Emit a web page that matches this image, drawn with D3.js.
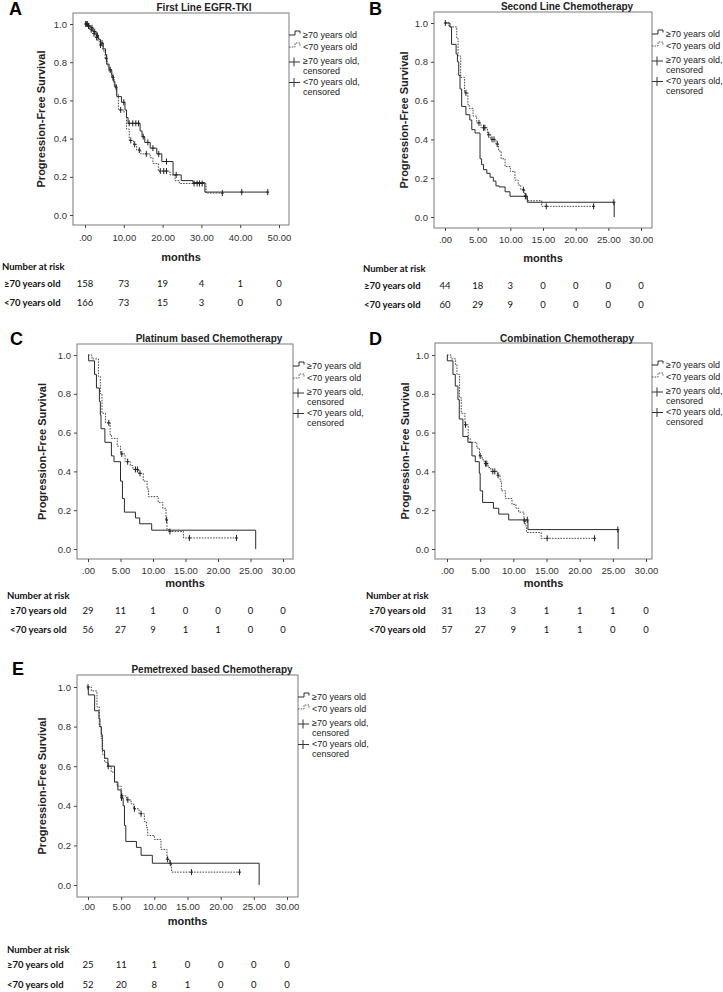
<!DOCTYPE html>
<html><head><meta charset="utf-8">
<script src="https://cdn.jsdelivr.net/npm/d3@7"></script>
<style>body{margin:0;background:#fff}</style>
</head><body><svg id="c" width="723" height="992"></svg>
<script>
// ---------- DATA ----------
const panelLetters = ["A", "B", "C", "D", "E"];
const panelTitles = ["First Line EGFR-TKI", "Second Line Chemotherapy", "Platinum based Chemotherapy", "Combination Chemotherapy", "Pemetrexed based Chemotherapy"];
const groupLabels = ["≥70 years old", "<70 years old"];
const legendLabels = [["≥70 years old"], ["<70 years old"], ["≥70 years old,", "censored"], ["<70 years old,", "censored"]];
const yTicks = [0, 0.2, 0.4, 0.6, 0.8, 1.0];
const xTicksEGFR = [0, 10, 20, 30, 40, 50];
const xTicksChemo = [0, 5, 10, 15, 20, 25, 30];
const yAxisTitle = "Progression-Free Survival";
const xAxisTitle = "months";
const riskHeader = "Number at risk";

// Number at risk
const riskAOld = [158, 73, 19, 4, 1, 0];
const riskAYoung = [166, 73, 15, 3, 0, 0];
const riskBOld = [44, 18, 3, 0, 0, 0, 0];
const riskBYoung = [60, 29, 9, 0, 0, 0, 0];
const riskCOld = [29, 11, 1, 0, 0, 0, 0];
const riskCYoung = [56, 27, 9, 1, 1, 0, 0];
const riskDOld = [31, 13, 3, 1, 1, 1, 0];
const riskDYoung = [57, 27, 9, 1, 1, 0, 0];
const riskEOld = [25, 11, 1, 0, 0, 0, 0];
const riskEYoung = [52, 20, 8, 1, 0, 0, 0];

// Kaplan-Meier steps: times (months) and survival from that time on; censored times
const aOldT = [0, 0.7, 1.5, 2.1, 2.9, 3.5, 4.0, 4.7, 5.3, 5.6, 6.2, 6.9, 7.3, 7.7, 8.2, 9.4, 10.3, 10.7, 11.1, 14.2, 14.7, 15.4, 16.8, 18.5, 19.8, 22.7, 24.8, 27.8, 30.9, 47.2];
const aOldS = [1.0, 0.99, 0.98, 0.96, 0.94, 0.92, 0.90, 0.87, 0.84, 0.79, 0.76, 0.73, 0.70, 0.67, 0.62, 0.59, 0.55, 0.51, 0.48, 0.44, 0.41, 0.38, 0.35, 0.32, 0.28, 0.21, 0.18, 0.17, 0.12, 0.12];
const aOldC = [0.3, 0.6, 1.0, 1.8, 2.5, 3.2, 4.4, 6.5, 8.0, 10.0, 11.4, 12.3, 13.1, 13.8, 15.0, 16.2, 17.5, 19.0, 21.0, 23.5, 40.4, 47.1];
const aYoungT = [0, 0.5, 1.2, 2.0, 2.6, 3.3, 3.9, 4.6, 5.2, 5.7, 6.2, 6.9, 7.5, 8.1, 8.6, 9.9, 10.7, 11.4, 12.5, 13.3, 14.4, 16.8, 17.5, 18.9, 21.9, 23.2, 24.3, 31.2, 35.5];
const aYoungS = [1.0, 0.99, 0.97, 0.95, 0.93, 0.91, 0.89, 0.86, 0.82, 0.78, 0.75, 0.72, 0.68, 0.63, 0.55, 0.54, 0.45, 0.39, 0.37, 0.34, 0.32, 0.30, 0.27, 0.23, 0.21, 0.18, 0.165, 0.115, 0.115];
const aYoungC = [0.2, 0.9, 1.6, 2.3, 3.0, 4.0, 5.5, 7.2, 9.2, 11.8, 12.8, 14.0, 15.8, 19.4, 20.3, 21.0, 28.1, 28.9, 29.5, 30.2, 35.4];

const bOldT = [0, 0.75, 1.0, 1.7, 1.9, 2.1, 2.3, 2.55, 3.2, 3.8, 4.1, 4.6, 5.36, 5.6, 5.9, 6.4, 6.9, 7.4, 7.8, 8.3, 9.2, 9.95, 12.6, 25.9];
const bOldS = [1.0, 0.98, 0.89, 0.84, 0.80, 0.73, 0.66, 0.57, 0.527, 0.50, 0.45, 0.433, 0.30, 0.27, 0.244, 0.225, 0.205, 0.185, 0.16, 0.155, 0.13, 0.107, 0.076, 0];
const bOldC = [12.3, 25.85];
const bYoungT = [0, 0.6, 1.8, 2.0, 2.4, 3.0, 3.5, 3.7, 4.3, 4.85, 5.5, 6.5, 7.0, 7.8, 8.2, 8.6, 9.2, 10.0, 10.7, 11.2, 11.6, 12.2, 12.6, 14.8, 22.8];
const bYoungS = [1.0, 0.98, 0.92, 0.83, 0.72, 0.64, 0.58, 0.56, 0.52, 0.485, 0.46, 0.424, 0.40, 0.376, 0.34, 0.30, 0.26, 0.235, 0.19, 0.165, 0.14, 0.107, 0.084, 0.055, 0.055];
const bYoungC = [0.05, 3.2, 5.2, 5.9, 6.1, 6.7, 7.2, 7.5, 8.0, 12.0, 12.4, 15.5, 22.75];

const cOldT = [0, 0.1, 1.0, 1.3, 1.75, 1.9, 2.0, 2.6, 3.6, 4.0, 5.0, 5.3, 5.6, 7.3, 7.95, 9.8, 25.8];
const cOldS = [1.0, 0.97, 0.90, 0.83, 0.76, 0.69, 0.62, 0.55, 0.48, 0.45, 0.35, 0.26, 0.19, 0.16, 0.13, 0.097, 0];
const cOldC = [];
const cYoungT = [0, 0.6, 1.6, 1.9, 2.15, 2.7, 3.4, 3.6, 4.5, 5.0, 5.7, 6.5, 6.9, 7.8, 8.5, 9.1, 9.3, 10.8, 11.5, 12.0, 12.15, 12.5, 14.7, 22.9];
const cYoungS = [1.0, 0.98, 0.89, 0.80, 0.70, 0.65, 0.59, 0.57, 0.53, 0.49, 0.45, 0.43, 0.41, 0.39, 0.35, 0.31, 0.27, 0.24, 0.21, 0.15, 0.10, 0.09, 0.057, 0.057];
const cYoungC = [3.2, 5.2, 6.1, 7.3, 7.6, 8.0, 12.1, 12.6, 15.6, 22.85];

const dOldT = [0, 0.05, 0.9, 1.25, 1.65, 1.85, 2.4, 3.15, 3.76, 4.26, 4.87, 5.0, 5.37, 7.0, 7.8, 9.3, 12.2, 25.8];
const dOldS = [1.0, 0.97, 0.90, 0.84, 0.77, 0.67, 0.58, 0.55, 0.48, 0.45, 0.39, 0.30, 0.24, 0.21, 0.18, 0.15, 0.10, 0];
const dOldC = [12.1, 25.75];
const dYoungT = [0, 0.6, 1.3, 1.5, 1.9, 2.15, 2.7, 3.2, 3.5, 4.5, 4.9, 5.3, 5.6, 6.2, 6.6, 7.6, 8.0, 8.2, 8.8, 9.8, 10.4, 10.8, 11.6, 11.8, 12.0, 14.2, 22.3];
const dYoungS = [1.0, 0.98, 0.95, 0.90, 0.78, 0.70, 0.64, 0.57, 0.55, 0.52, 0.48, 0.46, 0.44, 0.42, 0.40, 0.38, 0.35, 0.30, 0.26, 0.23, 0.21, 0.19, 0.145, 0.12, 0.085, 0.055, 0.055];
const dYoungC = [2.8, 5.0, 5.8, 6.0, 6.9, 7.2, 7.7, 11.65, 15.1, 22.25];

const eOldT = [0, 0.05, 1.0, 1.65, 1.8, 2.0, 2.15, 2.5, 3.0, 4.0, 4.5, 5.0, 5.3, 5.5, 5.7, 7.3, 8.0, 9.7, 25.8];
const eOldS = [1.0, 0.96, 0.88, 0.84, 0.80, 0.76, 0.68, 0.64, 0.60, 0.52, 0.48, 0.44, 0.40, 0.30, 0.22, 0.19, 0.15, 0.11, 0];
const eOldC = [0, 5.05];
const eYoungT = [0, 0.5, 1.35, 1.7, 2.0, 2.2, 2.5, 3.0, 3.5, 4.0, 4.4, 5.0, 5.8, 6.5, 6.9, 7.7, 8.5, 8.8, 9.0, 10.0, 11.0, 11.9, 12.3, 12.6, 22.9];
const eYoungS = [1.0, 0.98, 0.90, 0.80, 0.74, 0.66, 0.62, 0.60, 0.57, 0.52, 0.50, 0.45, 0.43, 0.41, 0.385, 0.36, 0.32, 0.29, 0.25, 0.23, 0.18, 0.13, 0.11, 0.065, 0.065];
const eYoungC = [3.05, 5.1, 6.0, 7.0, 8.0, 12.0, 12.4, 15.6, 22.85];

// ---------- LAYOUT ----------
const layouts = [
  {fx0:73, fx1:289, fy0:13, fy1:225, px0:85, px1:279, py1:24, py0:215, lx:9, ly:15, tx:204, ty:10.5, tickY:241, monthsY:261, rhx:2, rhy:270, rrx:4, rry:[287,306], ylx:41},
  {fx0:434, fx1:652, fy0:12, fy1:228, px0:445, px1:641, py1:23, py0:217, lx:369, ly:15, tx:567, ty:10, tickY:243, monthsY:261.5, rhx:363, rhy:272, rrx:364, rry:[289,308], ylx:404},
  {fx0:77, fx1:293, fy0:344, fy1:559, px0:88, px1:283, py1:355, py0:549, lx:10, ly:345, tx:209, ty:342, tickY:574, monthsY:587, rhx:7, rhy:599, rrx:10, rry:[614,633], ylx:42},
  {fx0:435, fx1:652, fy0:343, fy1:559, px0:447, px1:646, py1:355, py0:549, lx:369, ly:345, tx:567, ty:342, tickY:574, monthsY:587, rhx:366, rhy:599, rrx:369, rry:[614,633], ylx:405},
  {fx0:77, fx1:298, fy0:675, fy1:897, px0:88, px1:287, py1:687, py0:885, lx:12, ly:675, tx:212, ty:673, tickY:910, monthsY:925, rhx:7, rhy:953, rrx:7, rry:[968,988], ylx:42}
];

const panels = [
  {xTicks: xTicksEGFR, risk:[riskAOld, riskAYoung], old:[aOldT, aOldS, aOldC], young:[aYoungT, aYoungS, aYoungC]},
  {xTicks: xTicksChemo, risk:[riskBOld, riskBYoung], old:[bOldT, bOldS, bOldC], young:[bYoungT, bYoungS, bYoungC]},
  {xTicks: xTicksChemo, risk:[riskCOld, riskCYoung], old:[cOldT, cOldS, cOldC], young:[cYoungT, cYoungS, cYoungC]},
  {xTicks: xTicksChemo, risk:[riskDOld, riskDYoung], old:[dOldT, dOldS, dOldC], young:[dYoungT, dYoungS, dYoungC]},
  {xTicks: xTicksChemo, risk:[riskEOld, riskEYoung], old:[eOldT, eOldS, eOldC], young:[eYoungT, eYoungS, eYoungC]}
];

// ---------- DRAW ----------
const svg = d3.select("#c");
svg.append("rect").attr("width", 723).attr("height", 992).attr("fill", "#fff");
const SANS = "'Liberation Sans', Arial, sans-serif";
const TABLE = "Lato, 'Open Sans', sans-serif";
const INK = "#222";
const fmtX = d => d === 0 ? ".00" : d.toFixed(2);

panels.forEach((p, i) => {
  const L = layouts[i];
  const g = svg.append("g");
  const xMax = p.xTicks[p.xTicks.length - 1];
  const x = d3.scaleLinear().domain([0, xMax]).range([L.px0, L.px1]);
  const y = d3.scaleLinear().domain([0, 1]).range([L.py0, L.py1]);

  // frame
  g.append("rect").attr("x", L.fx0).attr("y", L.fy0).attr("width", L.fx1 - L.fx0).attr("height", L.fy1 - L.fy0)
    .attr("fill", "none").attr("stroke", "#7a7a7a").attr("stroke-width", 1);

  // y axis
  const ya = g.append("g").attr("transform", `translate(${L.fx0},0)`)
    .call(d3.axisLeft(y).tickValues(yTicks).tickFormat(d3.format(".1f")).tickSize(3).tickPadding(3));
  ya.select(".domain").remove();
  ya.selectAll(".tick line").attr("stroke", "#444");
  ya.selectAll(".tick text").attr("font-family", SANS).attr("font-size", 9.5).attr("fill", "#333");

  // x axis
  const xa = g.append("g").attr("transform", `translate(0,${L.fy1})`)
    .call(d3.axisBottom(x).tickValues(p.xTicks).tickFormat(fmtX).tickSize(3));
  xa.select(".domain").remove();
  xa.selectAll(".tick line").attr("stroke", "#444");
  xa.selectAll(".tick text").attr("font-family", SANS).attr("font-size", 9.5).attr("fill", "#333")
    .attr("dy", 0).attr("y", L.tickY - L.fy1);

  // labels
  g.append("text").attr("x", L.lx).attr("y", L.ly).text(panelLetters[i])
    .attr("font-family", SANS).attr("font-weight", "bold").attr("font-size", 18).attr("fill", "#000");
  g.append("text").attr("x", L.tx).attr("y", L.ty).attr("text-anchor", "middle").text(panelTitles[i])
    .attr("font-family", SANS).attr("font-weight", "bold").attr("font-size", 10).attr("fill", INK);
  g.append("text").attr("transform", `translate(${L.ylx + 4},${(L.fy0 + L.fy1) / 2}) rotate(-90)`)
    .attr("text-anchor", "middle").text(yAxisTitle)
    .attr("font-family", SANS).attr("font-weight", "bold").attr("font-size", 11).attr("fill", INK);
  g.append("text").attr("x", (L.fx0 + L.fx1) / 2).attr("y", L.monthsY).attr("text-anchor", "middle").text(xAxisTitle)
    .attr("font-family", SANS).attr("font-weight", "bold").attr("font-size", 11).attr("fill", INK);

  // curves
  const line = d3.line().x(d => x(d[0])).y(d => y(d[1])).curve(d3.curveStepAfter);
  const styles = {old: {stroke: "#2a2a2a", dash: null}, young: {stroke: "#4a4a4a", dash: "1.6,1.2"}};
  ["young", "old"].forEach(k => {
    const [T, S, C] = p[k];
    g.append("path").attr("d", line(d3.zip(T, S))).attr("fill", "none")
      .attr("stroke", styles[k].stroke).attr("stroke-width", 1).attr("stroke-dasharray", styles[k].dash);
    C.forEach(c => {
      const s = S[Math.max(0, d3.bisectRight(T, c) - 1)];
      const cx = x(c), cy = y(s);
      g.append("line").attr("x1", cx).attr("x2", cx).attr("y1", cy - 3).attr("y2", cy + 3)
        .attr("stroke", "#222").attr("stroke-width", 1);
      g.append("line").attr("x1", cx - 1.5).attr("x2", cx + 1.5).attr("y1", cy).attr("y2", cy)
        .attr("stroke", "#222").attr("stroke-width", 1);
    });
  });

  // legend
  const lx0 = L.fx1;
  const rowOff = [22, 34, 48, 58, 68.5, 78.5];
  const lg = g.append("g").attr("font-family", SANS).attr("font-size", 9).attr("fill", INK);
  // step symbols
  [0, 1].forEach(j => {
    const cy = L.fy0 + rowOff[j];
    lg.append("path").attr("d", `M${lx0},${cy} H${lx0 + 6} V${cy - 4} H${lx0 + 11} V${cy - 1.5}`)
      .attr("fill", "none").attr("stroke", j === 0 ? "#2a2a2a" : "#555").attr("stroke-width", 1)
      .attr("stroke-dasharray", j === 0 ? null : "1.5,1.2");
  });
  // censored symbols
  [2, 4].forEach(r => {
    const cy = L.fy0 + rowOff[r] + 1;
    lg.append("line").attr("x1", lx0).attr("x2", lx0 + 11).attr("y1", cy).attr("y2", cy).attr("stroke", "#333");
    lg.append("line").attr("x1", lx0 + 5).attr("x2", lx0 + 5).attr("y1", cy - 4.5).attr("y2", cy + 4.5).attr("stroke", "#333");
  });
  const textRows = [[0, 0], [1, 1], [2, 2], [2, 3], [3, 4], [3, 5]];
  const lineIdx = [0, 0, 0, 1, 0, 1];
  textRows.forEach(([li, r], k) => {
    lg.append("text").attr("x", lx0 + 14).attr("y", L.fy0 + rowOff[r] + 3.2).text(legendLabels[li][lineIdx[k]]);
  });

  // risk table
  const tg = g.append("g").attr("font-family", TABLE).attr("font-size", 9.5).attr("fill", "#111");
  tg.append("text").attr("x", L.rhx).attr("y", L.rhy).attr("font-weight", "bold").text(riskHeader);
  p.risk.forEach((row, r) => {
    tg.append("text").attr("x", L.rrx).attr("y", L.rry[r]).attr("font-weight", "bold").text(groupLabels[r]);
    tg.selectAll(null).data(row).join("text")
      .attr("x", (d, j) => x(p.xTicks[j])).attr("y", L.rry[r]).attr("text-anchor", "middle").text(d => d);
  });
});
</script>
</body></html>
